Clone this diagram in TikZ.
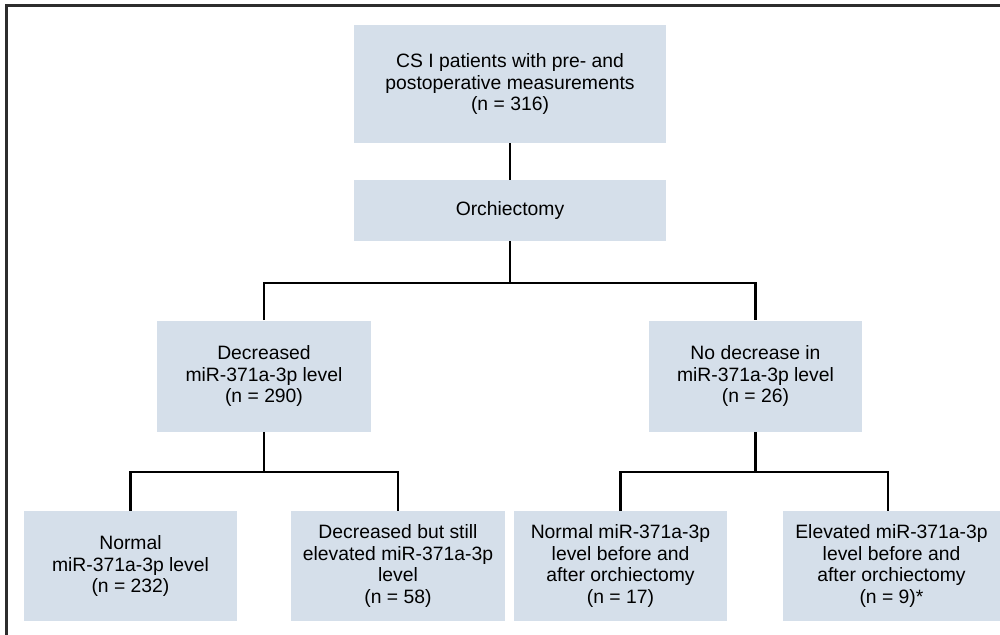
\documentclass[tikz,border=0pt]{standalone}
\usepackage{fontspec}
\setmainfont{Liberation Sans}
\definecolor{boxfill}{RGB}{213,223,234}
\definecolor{framegray}{RGB}{45,45,45}
\tikzset{
  flowbox/.style={fill=boxfill, draw=none, align=center, inner sep=0pt,
    font=\fontsize{14.5}{16.3}\selectfont},
  link/.style={draw=black, line width=2pt}
}
\begin{document}
\begin{tikzpicture}[x=0.75pt,y=-0.75pt]
\useasboundingbox (0,0) rectangle (1000,635);
% frame (top and left edges)
\draw[framegray, line width=1.6pt] (6.5,635) -- (6.5,5.5) -- (1000,5.5);

\node[flowbox, minimum width=234pt, minimum height=88.5pt] (top) at (510,84)
  {CS I patients with pre- and\\postoperative measurements\\(n = 316)};
\node[flowbox, minimum width=234pt, minimum height=45.75pt] (orch) at (510,210.5)
  {Orchiectomy};
\node[flowbox, minimum width=160.5pt, minimum height=83.25pt] (dec) at (264,376)
  {Decreased\\miR-371a-3p level\\(n = 290)};
\node[flowbox, minimum width=159.75pt, minimum height=83.25pt] (nodec) at (755.5,376)
  {No decrease in\\miR-371a-3p level\\(n = 26)};
\node[flowbox, minimum width=159.75pt, minimum height=82.5pt] (norm) at (130.5,566)
  {Normal\\miR-371a-3p level\\(n = 232)};
\node[flowbox, minimum width=160.5pt, minimum height=82.5pt] (decstill) at (398,566)
  {Decreased but still\\elevated miR-371a-3p\\level\\(n = 58)};
\node[flowbox, minimum width=159.75pt, minimum height=82.5pt] (normba) at (620.5,566)
  {Normal miR-371a-3p\\level before and\\after orchiectomy\\(n = 17)};
\node[flowbox, minimum width=163.5pt, minimum height=82.5pt] (elev) at (891.5,566)
  {Elevated miR-371a-3p\\level before and\\after orchiectomy\\(n = 9)*};

\coordinate (b1) at (510,283);
\coordinate (b2) at (264,472);
\coordinate (b3) at (755.5,472);

\draw[link] (top.south) -- (orch.north);
\draw[link] (orch.south) -- (b1);
\draw[link] (dec.north) |- (b1) -| (nodec.north);
\draw[link] (dec.south) -- (b2);
\draw[link] (norm.north) |- (b2) -| (decstill.north);
\draw[link] (nodec.south) -- (b3);
\draw[link] (normba.north) |- (b3) -| ([xshift=-2.6pt]elev.north);
\end{tikzpicture}
\end{document}
